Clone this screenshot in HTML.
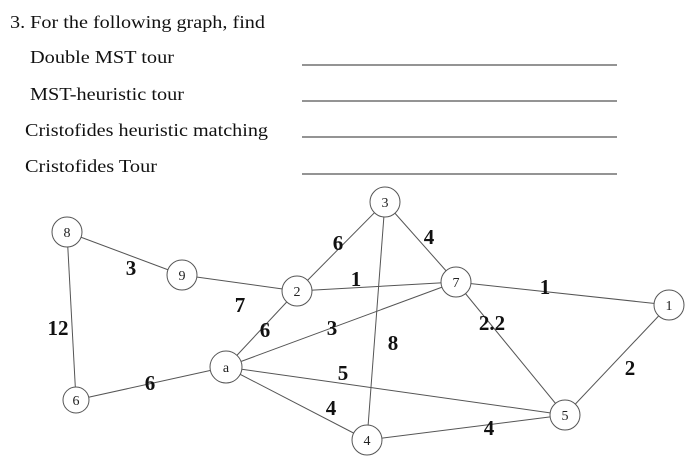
<!DOCTYPE html>
<html><head><meta charset="utf-8"><style>
html,body{margin:0;padding:0;background:#fff;}
svg{display:block;}
</style></head><body>
<svg width="700" height="466" viewBox="0 0 700 466" xmlns="http://www.w3.org/2000/svg">
<g font-family="Liberation Serif, serif" font-size="18" fill="#111">
<text x="10" y="28" textLength="255" lengthAdjust="spacingAndGlyphs">3. For the following graph, find</text>
<text x="30" y="63" textLength="144" lengthAdjust="spacingAndGlyphs">Double MST tour</text>
<text x="30" y="100" textLength="154" lengthAdjust="spacingAndGlyphs">MST-heuristic tour</text>
<text x="25" y="136" textLength="243" lengthAdjust="spacingAndGlyphs">Cristofides heuristic matching</text>
<text x="25" y="172" textLength="132" lengthAdjust="spacingAndGlyphs">Cristofides Tour</text>
</g>
<g stroke="#555" stroke-width="1.3">
<line x1="302" y1="65" x2="617" y2="65"/>
<line x1="302" y1="101" x2="617" y2="101"/>
<line x1="302" y1="137" x2="617" y2="137"/>
<line x1="302" y1="174" x2="617" y2="174"/>
</g>
<g stroke="#555" stroke-width="1">
<line x1="67" y1="232" x2="182" y2="275"/>
<line x1="67" y1="232" x2="76" y2="400"/>
<line x1="182" y1="275" x2="297" y2="291"/>
<line x1="297" y1="291" x2="385" y2="202"/>
<line x1="297" y1="291" x2="456" y2="282"/>
<line x1="297" y1="291" x2="226" y2="367"/>
<line x1="385" y1="202" x2="456" y2="282"/>
<line x1="385" y1="202" x2="367" y2="440"/>
<line x1="456" y1="282" x2="669" y2="305"/>
<line x1="456" y1="282" x2="565" y2="415"/>
<line x1="456" y1="282" x2="226" y2="367"/>
<line x1="669" y1="305" x2="565" y2="415"/>
<line x1="226" y1="367" x2="76" y2="400"/>
<line x1="226" y1="367" x2="565" y2="415"/>
<line x1="226" y1="367" x2="367" y2="440"/>
<line x1="367" y1="440" x2="565" y2="415"/>
</g>
<g stroke="#555" stroke-width="1" fill="#fff">
<circle cx="67" cy="232" r="15"/>
<circle cx="182" cy="275" r="15"/>
<circle cx="297" cy="291" r="15"/>
<circle cx="385" cy="202" r="15"/>
<circle cx="456" cy="282" r="15"/>
<circle cx="669" cy="305" r="15"/>
<circle cx="226" cy="367" r="16"/>
<circle cx="76" cy="400" r="13"/>
<circle cx="565" cy="415" r="15"/>
<circle cx="367" cy="440" r="15"/>
</g>
<g font-family="Liberation Serif, serif" font-size="14" fill="#222" text-anchor="middle">
<text x="67" y="237">8</text>
<text x="182" y="280">9</text>
<text x="297" y="296">2</text>
<text x="385" y="207">3</text>
<text x="456" y="287">7</text>
<text x="669" y="310">1</text>
<text x="226" y="372">a</text>
<text x="76" y="405">6</text>
<text x="565" y="420">5</text>
<text x="367" y="445">4</text>
</g>
<g font-family="Liberation Serif, serif" font-size="21" font-weight="bold" fill="#111" text-anchor="middle">
<text x="338" y="250">6</text>
<text x="429" y="244">4</text>
<text x="131" y="275">3</text>
<text x="356" y="286">1</text>
<text x="545" y="294">1</text>
<text x="240" y="312">7</text>
<text x="58" y="335">12</text>
<text x="265" y="337">6</text>
<text x="332" y="335">3</text>
<text x="492" y="330">2.2</text>
<text x="393" y="350">8</text>
<text x="343" y="380">5</text>
<text x="630" y="375">2</text>
<text x="150" y="390">6</text>
<text x="331" y="415">4</text>
<text x="489" y="435">4</text>
</g>
</svg>
</body></html>
